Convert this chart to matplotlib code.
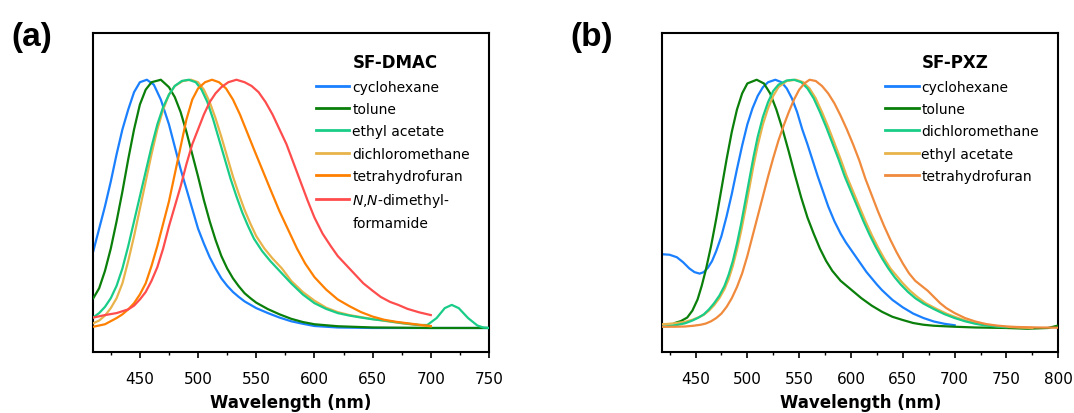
import matplotlib
matplotlib.use('Agg')
import matplotlib.pyplot as plt
from matplotlib.ticker import MultipleLocator

# ---- (a) SF-DMAC : normalised PL spectra ----
a_cyc_wl = [410, 415, 420, 425, 430, 435, 440, 445, 450, 456, 462, 468, 475, 480, 485, 490, 495, 500,
            505, 510, 515, 520, 525, 530, 535, 540, 550, 560, 570, 580, 590, 600, 620, 650, 750]
a_cyc_in = [0.31, 0.40, 0.49, 0.59, 0.70, 0.80, 0.88, 0.95, 0.99, 1.00, 0.98, 0.92, 0.82, 0.73, 0.64, 0.56, 0.48, 0.40,
            0.34, 0.285, 0.24, 0.20, 0.17, 0.145, 0.125, 0.107, 0.08, 0.06, 0.042, 0.027, 0.017, 0.008, 0.002, 0.0, 0.0]

a_tol_wl = [410, 415, 420, 425, 430, 435, 440, 445, 450, 455, 460, 468, 475, 480, 485, 490, 495, 500, 505,
            510, 515, 520, 525, 530, 535, 540, 545, 550, 560, 570, 580, 590, 600, 620, 650, 700, 750]
a_tol_in = [0.12, 0.16, 0.23, 0.32, 0.43, 0.55, 0.68, 0.80, 0.90, 0.96, 0.99, 1.00, 0.97, 0.93, 0.87, 0.79, 0.70, 0.61, 0.515,
            0.43, 0.355, 0.29, 0.24, 0.20, 0.168, 0.14, 0.12, 0.102, 0.076, 0.055, 0.037, 0.024, 0.015, 0.007, 0.002, 0.0, 0.0]

a_ea_wl = [410, 415, 420, 425, 430, 435, 440, 445, 450, 455, 460, 465, 470, 475, 480, 486, 492, 498, 503, 508,
           513, 518, 523, 528, 533, 538, 543, 548, 555, 562, 570, 580, 590, 600, 610, 620, 630, 640, 650, 660,
           675, 690, 697, 705, 712, 718, 724, 732, 740, 745, 750]
a_ea_in = [0.043, 0.06, 0.085, 0.12, 0.17, 0.24, 0.33, 0.43, 0.53, 0.63, 0.73, 0.82, 0.89, 0.94, 0.975, 0.995, 1.00, 0.99, 0.96, 0.91,
           0.84, 0.76, 0.68, 0.60, 0.53, 0.465, 0.41, 0.36, 0.31, 0.27, 0.23, 0.18, 0.135, 0.10, 0.077, 0.06, 0.05, 0.042, 0.035, 0.03,
           0.02, 0.012, 0.012, 0.04, 0.08, 0.093, 0.08, 0.04, 0.01, 0.002, 0.0]

a_dcm_wl = [410, 415, 420, 425, 430, 435, 440, 445, 450, 455, 460, 465, 470, 475, 480, 487, 494, 500, 505, 510,
            515, 520, 525, 530, 535, 540, 545, 550, 557, 564, 572, 580, 590, 600, 610, 620, 630, 640, 650, 660,
            675, 690, 700]
a_dcm_in = [0.019, 0.03, 0.05, 0.08, 0.12, 0.18, 0.27, 0.37, 0.48, 0.59, 0.70, 0.80, 0.88, 0.94, 0.975, 0.995, 1.00, 0.99, 0.96, 0.91,
            0.845, 0.77, 0.69, 0.61, 0.54, 0.475, 0.42, 0.37, 0.32, 0.28, 0.24, 0.19, 0.145, 0.11, 0.082, 0.064, 0.052, 0.044, 0.036, 0.029,
            0.019, 0.011, 0.007]

a_thf_wl = [410, 420, 430, 435, 440, 445, 450, 455, 460, 465, 470, 475, 480, 485, 490, 495, 500, 506, 512, 518,
            524, 530, 536, 542, 548, 555, 562, 570, 578, 585, 592, 600, 610, 620, 630, 640, 650, 660, 670, 680,
            690, 700]
a_thf_in = [0.005, 0.015, 0.04, 0.055, 0.075, 0.10, 0.135, 0.18, 0.25, 0.33, 0.42, 0.51, 0.62, 0.73, 0.84, 0.92, 0.965, 0.99, 1.00, 0.99,
            0.965, 0.92, 0.86, 0.79, 0.72, 0.64, 0.56, 0.47, 0.39, 0.32, 0.26, 0.205, 0.155, 0.115, 0.088, 0.064, 0.046, 0.033, 0.025, 0.019,
            0.013, 0.008]

a_dmf_wl = [410, 420, 430, 440, 445, 450, 455, 460, 465, 470, 475, 480, 485, 490, 495, 500, 505, 510, 515, 520,
            526, 533, 540, 546, 552, 558, 564, 570, 576, 582, 588, 594, 600, 607, 614, 620, 628, 635, 642, 650,
            657, 665, 672, 680, 690, 700]
a_dmf_in = [0.042, 0.052, 0.06, 0.075, 0.09, 0.115, 0.145, 0.19, 0.245, 0.32, 0.41, 0.49, 0.57, 0.66, 0.74, 0.80, 0.86, 0.91, 0.945, 0.97,
            0.99, 1.00, 0.99, 0.975, 0.95, 0.91, 0.86, 0.80, 0.74, 0.665, 0.59, 0.515, 0.445, 0.38, 0.33, 0.29, 0.25, 0.215, 0.18, 0.15,
            0.125, 0.105, 0.093, 0.077, 0.063, 0.052]

# ---- (b) SF-PXZ ----
b_cyc_wl = [418, 425, 432, 438, 444, 449, 454, 458, 462, 466, 470, 475, 480, 485, 490, 495, 500, 505, 510, 515,
            520, 527, 533, 538, 543, 548, 553, 558, 563, 568, 573, 578, 584, 590, 595, 600, 605, 610, 615, 620,
            625, 630, 640, 650, 660, 670, 680, 690, 700]
b_cyc_in = [0.297, 0.295, 0.285, 0.265, 0.24, 0.225, 0.219, 0.225, 0.243, 0.27, 0.31, 0.37, 0.45, 0.54, 0.64, 0.735, 0.82, 0.885, 0.935, 0.97,
            0.99, 1.00, 0.99, 0.965, 0.925, 0.87, 0.80, 0.74, 0.675, 0.61, 0.55, 0.49, 0.43, 0.38, 0.345, 0.315, 0.285, 0.255, 0.225, 0.20,
            0.175, 0.152, 0.113, 0.083, 0.058, 0.04, 0.026, 0.017, 0.011]

b_tol_wl = [430, 436, 442, 447, 452, 456, 460, 465, 470, 475, 480, 485, 490, 495, 500, 509, 516, 522, 528, 534,
            540, 546, 552, 558, 564, 570, 576, 582, 590, 600, 610, 620, 630, 640, 650, 660, 670, 680, 700, 720,
            750, 770, 790, 800]
b_tol_in = [0.02, 0.028, 0.042, 0.07, 0.115, 0.17, 0.235, 0.33, 0.44, 0.56, 0.68, 0.79, 0.88, 0.945, 0.985, 1.00, 0.985, 0.945, 0.88, 0.80,
            0.71, 0.615, 0.525, 0.445, 0.38, 0.32, 0.27, 0.23, 0.19, 0.155, 0.12, 0.09, 0.065, 0.045, 0.032, 0.02, 0.013, 0.009, 0.005, 0.002,
            0.0, -0.003, 0.0, 0.01]

b_dcm_wl = [418, 425, 432, 440, 447, 453, 458, 463, 468, 473, 478, 482, 486, 490, 494, 498, 502, 506, 510, 515,
            520, 525, 530, 538, 545, 552, 558, 564, 570, 576, 582, 588, 594, 600, 606, 612, 618, 624, 630, 636,
            642, 648, 655, 662, 670, 680, 690, 700, 710, 720, 730, 740, 750]
b_dcm_in = [0.005, 0.008, 0.012, 0.019, 0.03, 0.042, 0.055, 0.075, 0.10, 0.13, 0.17, 0.215, 0.27, 0.34, 0.42, 0.51, 0.60, 0.69, 0.77, 0.85,
            0.91, 0.955, 0.98, 0.997, 1.00, 0.99, 0.965, 0.925, 0.87, 0.81, 0.745, 0.68, 0.61, 0.55, 0.49, 0.43, 0.375, 0.325, 0.28, 0.24,
            0.205, 0.175, 0.145, 0.12, 0.098, 0.076, 0.056, 0.04, 0.027, 0.017, 0.01, 0.006, 0.003]

b_ea_wl = [418, 425, 432, 440, 447, 453, 458, 463, 468, 473, 478, 482, 486, 490, 494, 498, 502, 506, 510, 515,
           520, 525, 530, 538, 547, 554, 560, 566, 572, 578, 584, 590, 596, 602, 608, 614, 620, 626, 632, 638,
           644, 650, 657, 664, 672, 682, 692, 702, 712, 722, 732, 742, 752, 762, 775]
b_ea_in = [0.015, 0.017, 0.02, 0.025, 0.033, 0.043, 0.053, 0.07, 0.092, 0.12, 0.157, 0.197, 0.25, 0.315, 0.39, 0.475, 0.565, 0.655, 0.735, 0.82,
           0.885, 0.935, 0.97, 0.995, 1.00, 0.99, 0.965, 0.925, 0.87, 0.81, 0.745, 0.68, 0.61, 0.55, 0.49, 0.43, 0.375, 0.325, 0.28, 0.24,
           0.21, 0.18, 0.15, 0.125, 0.10, 0.078, 0.058, 0.042, 0.028, 0.018, 0.011, 0.007, 0.004, 0.002, 0.0]

b_thf_wl = [418, 430, 440, 448, 455, 460, 465, 470, 475, 480, 485, 490, 495, 500, 505, 510, 515, 520, 525, 530,
            535, 540, 545, 550, 555, 560, 566, 572, 578, 584, 590, 596, 602, 608, 614, 620, 626, 632, 638, 644,
            650, 656, 662, 668, 674, 680, 686, 692, 700, 710, 720, 730, 740, 750, 760, 780, 800]
b_thf_in = [0.005, 0.005, 0.006, 0.009, 0.013, 0.018, 0.027, 0.04, 0.058, 0.085, 0.12, 0.165, 0.22, 0.29, 0.37, 0.45, 0.53, 0.61, 0.685, 0.755,
            0.815, 0.87, 0.92, 0.96, 0.985, 1.00, 0.995, 0.975, 0.945, 0.905, 0.855, 0.80, 0.74, 0.675, 0.60, 0.535, 0.47, 0.41, 0.355, 0.305,
            0.26, 0.22, 0.19, 0.17, 0.15, 0.125, 0.10, 0.08, 0.06, 0.04, 0.026, 0.016, 0.01, 0.006, 0.004, 0.002, 0.001]

c_blue = '#1a80ff'
c_green = '#0a7f0a'
c_teal = '#19cc88'
c_gold = '#e8b34a'
c_orange = '#ff8000'
c_red = '#ff4c4c'
c_orange_b = '#f08a3c'

fig = plt.figure(figsize=(10.74, 4.14), dpi=100)
axA = fig.add_axes([0.0869, 0.1466, 0.3684, 0.7705])
axB = fig.add_axes([0.6167, 0.1466, 0.3687, 0.7705])

lw = 1.6
kw = dict(lw=lw, solid_joinstyle='round')
axA.plot(a_cyc_wl, a_cyc_in, color=c_blue, label='cyclohexane', zorder=2, **kw)
axA.plot(a_tol_wl, a_tol_in, color=c_green, label='tolune', zorder=3, **kw)
axA.plot(a_ea_wl, a_ea_in, color=c_teal, label='ethyl acetate', zorder=5, **kw)
axA.plot(a_dcm_wl, a_dcm_in, color=c_gold, label='dichloromethane', zorder=4, **kw)
axA.plot(a_thf_wl, a_thf_in, color=c_orange, label='tetrahydrofuran', zorder=6, **kw)
axA.plot(a_dmf_wl, a_dmf_in, color=c_red, label='$\\mathit{N}$,$\\mathit{N}$-dimethyl-', zorder=7, **kw)
# second line of the DMF legend entry
axA.text(0.656, 0.405, 'formamide', transform=axA.transAxes, fontsize=10, va='center', ha='left')

axB.plot(b_cyc_wl, b_cyc_in, color=c_blue, label='cyclohexane', zorder=2, **kw)
axB.plot(b_tol_wl, b_tol_in, color=c_green, label='tolune', zorder=3, **kw)
axB.plot(b_dcm_wl, b_dcm_in, color=c_teal, label='dichloromethane', zorder=5, **kw)
axB.plot(b_ea_wl, b_ea_in, color=c_gold, label='ethyl acetate', zorder=4, **kw)
axB.plot(b_thf_wl, b_thf_in, color=c_orange_b, label='tetrahydrofuran', zorder=6, **kw)

for ax, xlim, title, lab, lx in [(axA, (410, 750), 'SF-DMAC', '(a)', 0.030),
                                 (axB, (418, 800), 'SF-PXZ', '(b)', 0.551)]:
    ax.set_xlim(*xlim)
    ax.set_ylim(-0.098, 1.187)
    ax.set_yticks([])
    ax.xaxis.set_major_locator(MultipleLocator(50))
    ax.xaxis.set_minor_locator(MultipleLocator(25))
    ax.tick_params(axis='x', which='major', direction='out', length=4.5, width=1.2,
                   labelsize=11, pad=9)
    ax.tick_params(axis='x', which='minor', direction='out', length=2.5, width=1.0)
    for sp in ax.spines.values():
        sp.set_linewidth(1.5)
    ax.set_xlabel('Wavelength (nm)', fontsize=12, fontweight='bold', labelpad=5)
    leg = ax.legend(loc='upper left', bbox_to_anchor=(0.563, 0.855), frameon=False,
                    fontsize=10, handlelength=2.4, handletextpad=0.2,
                    labelspacing=0.6, borderpad=0, borderaxespad=0)
    for h in leg.get_lines():
        h.set_linewidth(2.0)
    ax.text(0.655, 0.909, title, transform=ax.transAxes, fontsize=12,
            fontweight='bold', va='center', ha='left')
    fig.text(lx, 0.91, lab, fontsize=24, family='Liberation Sans', fontweight='bold',
             va='center', ha='center')

fig.savefig('out.png', dpi=100)
